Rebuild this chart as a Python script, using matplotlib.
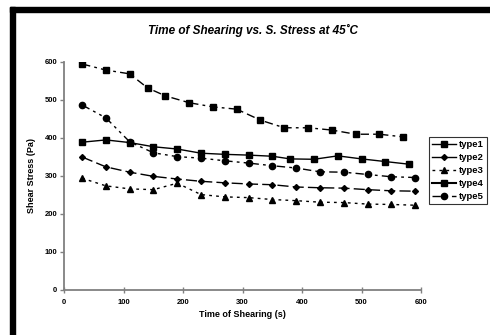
import matplotlib
matplotlib.use("Agg")
import matplotlib.pyplot as plt
from matplotlib.lines import Line2D
from matplotlib.patches import Rectangle

plt.rcParams["font.family"] = ["Liberation Sans", "DejaVu Sans"]

# tempos (s) de cada série
x_step = [30, 70, 110, 150, 190, 230, 270, 310, 350, 390, 430, 470, 510, 550, 590]
x_type1 = [30, 70, 110, 150, 190, 230, 270, 310, 350, 380, 420, 460, 500, 540, 580]
x_type4 = [30, 70, 110, 140, 170, 210, 250, 290, 330, 370, 410, 450, 490, 530, 570]

type1 = [388, 394, 387, 376, 370, 359, 356, 354, 351, 344, 343, 352, 344, 337, 330]
type2 = [349, 323, 309, 298, 291, 285, 281, 278, 276, 270, 268, 267, 263, 260, 259]
type3 = [293, 273, 265, 263, 280, 250, 244, 242, 237, 234, 230, 229, 225, 224, 222]
type4 = [594, 578, 568, 531, 510, 492, 481, 475, 446, 426, 426, 420, 409, 409, 402]
type5 = [486, 452, 389, 360, 350, 346, 339, 333, 326, 320, 310, 309, 303, 297, 295]

labels = ["type1", "type2", "type3", "type4", "type5"]
x_ticks = [0, 100, 200, 300, 400, 500, 600]
y_ticks = [0, 100, 200, 300, 400, 500, 600]

fig = plt.figure(figsize=(4.9, 3.35), dpi=100)
ax = fig.add_axes([0.1312, 0.1358, 0.7280, 0.680])

lw = 1.0
ax.plot(x_type1, type1, color="black", lw=lw, ls="-", marker="s", ms=4.2)
ax.plot(x_step, type2, color="black", lw=lw, ls=(0, (8, 3)), marker="D", ms=3.0)
ax.plot(x_step, type3, color="black", lw=lw, ls=(0, (2, 3)), marker="^", ms=4.5)
ax.plot(x_type4, type4, color="black", lw=lw, ls=(0, (6, 3, 2, 3)), marker="s", ms=4.8)
ax.plot(x_step, type5, color="black", lw=lw, ls=(0, (6, 3, 2, 3, 2, 3)), marker="o", ms=4.5)

ax.set_xlim(0, 600)
ax.set_ylim(0, 600)
ax.set_xticks(x_ticks)
ax.set_yticks(y_ticks)
for s in ["top", "right"]:
    ax.spines[s].set_visible(False)
for s in ["left", "bottom"]:
    ax.spines[s].set_color("#808080")
    ax.spines[s].set_linewidth(1.3)
ax.tick_params(axis="both", labelsize=5.5, width=1.0, length=3, color="#808080", pad=2)
ax.tick_params(axis="x", direction="inout", length=4, pad=5)
for t in ax.get_xticklabels() + ax.get_yticklabels():
    t.set_fontweight("bold")

ax.set_xlabel("Time of Shearing (s)", fontsize=6.5, fontweight="bold", labelpad=3)
ax.set_ylabel("Shear Stress (Pa)", fontsize=6.5, fontweight="bold", labelpad=6)
fig.text(0.517, 0.91, "Time of Shearing vs. S. Stress at 45˚C", ha="center", va="center",
         fontsize=8.5, fontweight="bold", fontstyle="italic")

# legenda como no Excel (estilos diferentes dos traços do gráfico)
handles = [
    Line2D([], [], color="black", lw=lw, ls="-", marker="s", ms=4.2),
    Line2D([], [], color="black", lw=lw, ls="-", marker="D", ms=3.0),
    Line2D([], [], color="black", lw=lw, ls=(0, (2, 3)), marker="^", ms=4.5),
    Line2D([], [], color="black", lw=1.5, ls="-", marker="s", ms=4.8),
    Line2D([], [], color="black", lw=lw, ls=(0, (6, 3, 2, 3)), marker="o", ms=4.5),
]
leg = fig.legend(handles, labels, loc="upper right",
                 bbox_to_anchor=(487 / 490, 1 - 137 / 335),
                 prop={"size": 6.8, "weight": "bold"}, frameon=True, fancybox=False,
                 handlelength=2.5, handletextpad=0.3, borderpad=0.35, labelspacing=0.42,
                 borderaxespad=0)
leg.get_frame().set_edgecolor("black")
leg.get_frame().set_linewidth(0.8)

# moldura preta grossa (esquerda e topo)
fig.patches.append(Rectangle((10 / 490, 0), 5 / 490, 1 - 7 / 335, transform=fig.transFigure,
                             color="black", zorder=10))
fig.patches.append(Rectangle((10 / 490, 1 - 12 / 335), 1, 5 / 335, transform=fig.transFigure,
                             color="black", zorder=10))

fig.savefig("out.png", dpi=100)
